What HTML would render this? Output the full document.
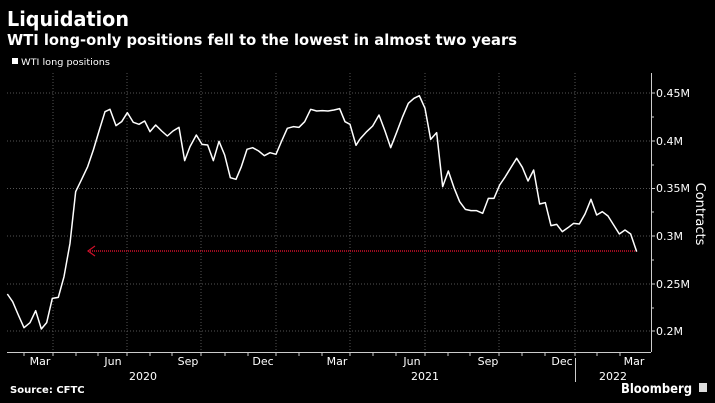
<!DOCTYPE html>
<html><head><meta charset="utf-8"><style>
html,body{margin:0;padding:0;background:#000;}
svg{display:block}
text{font-family:"DejaVu Sans","Liberation Sans",sans-serif;fill:#fff}
</style></head><body>
<svg width="715" height="403" viewBox="0 0 715 403" xmlns="http://www.w3.org/2000/svg">
<rect width="715" height="403" fill="#000"/>
<text x="7" y="26" font-size="20" font-weight="bold" textLength="122" lengthAdjust="spacingAndGlyphs">Liquidation</text>
<text x="7" y="45" font-size="15" font-weight="bold" textLength="510" lengthAdjust="spacingAndGlyphs">WTI long-only positions fell to the lowest in almost two years</text>
<rect x="12" y="58" width="6" height="6" fill="#fff"/>
<text x="21" y="65" font-size="9" fill="#ddd" textLength="89" lengthAdjust="spacingAndGlyphs">WTI long positions</text>
<g stroke="#555" stroke-width="1" stroke-dasharray="1,2">
<line x1="7" y1="93" x2="651" y2="93"/><line x1="7" y1="141" x2="651" y2="141"/><line x1="7" y1="188.5" x2="651" y2="188.5"/><line x1="7" y1="236" x2="651" y2="236"/><line x1="7" y1="284" x2="651" y2="284"/><line x1="7" y1="331" x2="651" y2="331"/>
<line x1="53" y1="73" x2="53" y2="352"/><line x1="127" y1="73" x2="127" y2="352"/><line x1="201" y1="73" x2="201" y2="352"/><line x1="276" y1="73" x2="276" y2="352"/><line x1="350" y1="73" x2="350" y2="352"/><line x1="425" y1="73" x2="425" y2="352"/><line x1="499" y1="73" x2="499" y2="352"/><line x1="575" y1="73" x2="575" y2="352"/>
</g>
<g stroke="#ccc" stroke-width="1">
<line x1="7" y1="352.5" x2="651" y2="352.5"/>
<line x1="651.5" y1="73" x2="651.5" y2="352"/>
<line x1="24" y1="352" x2="24" y2="356"/><line x1="53" y1="352" x2="53" y2="356"/><line x1="76" y1="352" x2="76" y2="356"/><line x1="98" y1="352" x2="98" y2="356"/><line x1="127" y1="352" x2="127" y2="356"/><line x1="150" y1="352" x2="150" y2="356"/><line x1="172" y1="352" x2="172" y2="356"/><line x1="201" y1="352" x2="201" y2="356"/><line x1="225" y1="352" x2="225" y2="356"/><line x1="248" y1="352" x2="248" y2="356"/><line x1="276" y1="352" x2="276" y2="356"/><line x1="299" y1="352" x2="299" y2="356"/><line x1="322" y1="352" x2="322" y2="356"/><line x1="350" y1="352" x2="350" y2="356"/><line x1="373" y1="352" x2="373" y2="356"/><line x1="396" y1="352" x2="396" y2="356"/><line x1="425" y1="352" x2="425" y2="356"/><line x1="448" y1="352" x2="448" y2="356"/><line x1="470" y1="352" x2="470" y2="356"/><line x1="499" y1="352" x2="499" y2="356"/><line x1="522" y1="352" x2="522" y2="356"/><line x1="545" y1="352" x2="545" y2="356"/><line x1="575" y1="352" x2="575" y2="356"/><line x1="597" y1="352" x2="597" y2="356"/><line x1="620" y1="352" x2="620" y2="356"/>
<line x1="651" y1="93" x2="655" y2="93"/><line x1="651" y1="141" x2="655" y2="141"/><line x1="651" y1="188.5" x2="655" y2="188.5"/><line x1="651" y1="236" x2="655" y2="236"/><line x1="651" y1="284" x2="655" y2="284"/><line x1="651" y1="331" x2="655" y2="331"/>
<line x1="651" y1="117" x2="654" y2="117"/><line x1="651" y1="165" x2="654" y2="165"/><line x1="651" y1="212" x2="654" y2="212"/><line x1="651" y1="260" x2="654" y2="260"/><line x1="651" y1="308" x2="654" y2="308"/>
<line x1="575.5" y1="358" x2="575.5" y2="382"/>
</g>
<g font-size="11" fill="#ddd">
<text x="656" y="97">0.45M</text><text x="656" y="145">0.4M</text><text x="656" y="192">0.35M</text><text x="656" y="240">0.3M</text><text x="656" y="288">0.25M</text><text x="656" y="335">0.2M</text>
</g>
<text transform="translate(696,214) rotate(90)" font-size="13" fill="#ddd" text-anchor="middle">Contracts</text>
<g font-size="11" fill="#ddd" text-anchor="middle">
<text x="40" y="365">Mar</text><text x="113" y="365">Jun</text><text x="188" y="365">Sep</text><text x="263" y="365">Dec</text><text x="337" y="365">Mar</text><text x="412" y="365">Jun</text><text x="488" y="365">Sep</text><text x="562" y="365">Dec</text><text x="634" y="365">Mar</text>
<text x="143" y="380">2020</text><text x="425" y="380">2021</text><text x="613" y="380">2022</text>
</g>
<text x="10" y="393" font-size="10" font-weight="bold" fill="#ddd">Source: CFTC</text>
<text x="692" y="393" font-size="13" font-weight="bold" fill="#ddd" text-anchor="end" textLength="71" lengthAdjust="spacingAndGlyphs">Bloomberg</text>
<rect x="699" y="383" width="8" height="9" fill="#ddd"/>
<line x1="88" y1="251" x2="637" y2="251" stroke="#d0102a" stroke-width="1.6" stroke-dasharray="1,1"/>
<polyline points="95,246 88,251 95,256" fill="none" stroke="#d0102a" stroke-width="1.2"/>
<g fill="none" stroke="#fff" stroke-width="1.5" stroke-linejoin="round">
<polyline vector-effect="non-scaling-stroke" transform="translate(0,60) scale(0.3333333)" points="22,702 38,725 55,765 72,803 90,788 107,752 124,807 140,788 157,715 175,712 192,650 210,550 227,395 245,358 263,320 280,270 298,210 315,155 330,148 348,197 365,185 382,158 400,187 417,193 434,183 450,215 467,195 485,213 502,228 519,213 537,202 554,302 570,260 589,225 606,253 623,255 640,302 657,244 674,285 691,353 708,358 724,320 741,268 758,263 776,273 793,287 810,278 828,283 845,243 862,205 880,200 897,202 914,185 932,148 950,153 967,152 984,153 1002,150 1019,146 1035,185 1050,193 1068,256 1080,237"/>
<polyline vector-effect="non-scaling-stroke" transform="translate(360,60) scale(0.3333333)" points="0,237 20,215 38,198 57,165 75,213 92,263 110,217 127,172 145,130 162,115 178,107 195,145 212,238 230,218 248,380 265,333 282,383 299,425 316,448 333,452 350,452 368,460 385,415 402,415 419,375 436,350 453,322 470,295 487,322 504,363 521,330 539,432 556,428 573,497 590,493 607,515 624,503 641,490 658,492 675,462 693,418 710,465 727,455 744,468 761,495 778,522 795,510 812,522 830,575"/>
</g>
</svg>
</body></html>
